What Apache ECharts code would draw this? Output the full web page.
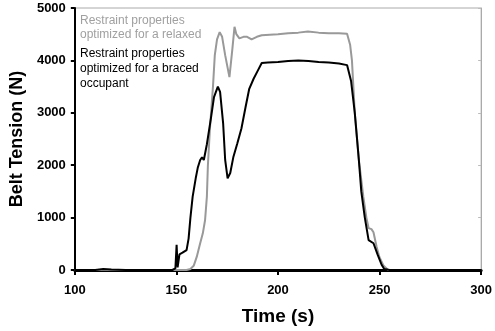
<!DOCTYPE html>
<html>
<head>
<meta charset="utf-8">
<script src="https://cdn.jsdelivr.net/npm/echarts@6/dist/echarts.min.js"></script>
<style>
  html, body { margin: 0; padding: 0; background: #fff; }
  #chart { width: 495px; height: 331px; }
</style>
</head>
<body>
<div id="chart"></div>
<script>
// relaxed occupant (gray)
var relaxTime = [100, 150, 155, 156.9, 158.5, 160, 161.7, 163, 164.1, 165, 165.5, 166.5, 168, 168.9, 170, 171.3, 172.5, 174, 176.1, 177.5, 178.6, 179.5, 181, 183, 184.8, 187, 189.6, 192, 200, 205, 210, 214.7, 220, 225, 230, 234, 235.5, 236.4, 237.8, 239.8, 242, 243.5, 244.6, 246, 247, 248.5, 249.9, 252, 254.2, 300]
var relaxForce = [0, 0, 0, 20, 80, 250, 510, 700, 950, 1400, 2000, 2700, 3500, 4100, 4400, 4540, 4450, 4100, 3680, 4200, 4640, 4500, 4420, 4450, 4450, 4400, 4450, 4480, 4500, 4520, 4530, 4550, 4530, 4520, 4520, 4510, 4300, 4000, 3000, 2100, 1400, 1000, 800, 780, 720, 450, 250, 80, 0, 0]

// braced occupant (black)
var braceTime = [100, 110, 114, 118, 125, 140, 148, 149.5, 150.1, 150.6, 151.5, 153, 155, 156, 156.9, 158, 159.5, 160.5, 161.7, 162.6, 163.5, 165, 167, 168.5, 170.4, 171.5, 173, 174, 175.2, 176.5, 178, 180, 182, 184, 185.8, 188, 190, 192, 195, 200, 205, 210, 215, 220, 225, 230, 234, 236, 237.8, 239.8, 241, 242.7, 244.6, 247, 249, 251, 252.3, 255, 300]
var braceForce = [0, 0, 20, 10, 0, 0, 0, 30, 480, 50, 300, 330, 380, 600, 1000, 1400, 1750, 1950, 2100, 2150, 2100, 2400, 2900, 3300, 3500, 3400, 2800, 2100, 1750, 1850, 2150, 2420, 2700, 3100, 3450, 3650, 3800, 3950, 3960, 3970, 3990, 4000, 3990, 3970, 3960, 3940, 3910, 3600, 3000, 2100, 1500, 1010, 570, 510, 300, 100, 20, 0, 0]

var xTicks = [100, 150, 200, 250, 300]
var yTicks = [0, 1000, 2000, 3000, 4000, 5000]

function pairs(t, v) {
  return t.map(function (x, i) { return [x, v[i]] })
}

var myChart = echarts.init(document.getElementById('chart'))

var boldFont = 'Liberation Sans, Arial, sans-serif'

var option = {
  animation: false,
  grid: {
    left: 72, right: 8, top: 8, bottom: 61,
    show: true,
    borderColor: '#aaa',
    borderWidth: 1
  },
  xAxis: {
    type: 'value',
    min: xTicks[0],
    max: xTicks[xTicks.length - 1],
    interval: 50,
    name: 'Time (s)',
    nameLocation: 'middle',
    nameGap: 37,
    nameTextStyle: { fontFamily: boldFont, fontWeight: 'bold', fontSize: 19, color: '#000' },
    axisLine: { show: true, lineStyle: { color: '#000', width: 3 } },
    axisTick: { show: true, length: 5, lineStyle: { color: '#000', width: 2 } },
    axisLabel: { fontFamily: boldFont, fontWeight: 'bold', fontSize: 13, color: '#000', margin: 14 },
    splitLine: { show: false }
  },
  yAxis: [{
    type: 'value',
    min: yTicks[0],
    max: yTicks[yTicks.length - 1],
    interval: 1000,
    name: 'Belt Tension (N)',
    nameLocation: 'middle',
    nameGap: 46,
    nameTextStyle: { fontFamily: boldFont, fontWeight: 'bold', fontSize: 18, color: '#000' },
    axisLine: { show: true, lineStyle: { color: '#000', width: 2 } },
    axisTick: { show: true, length: 4, lineStyle: { color: '#000', width: 2 } },
    axisLabel: {
      fontFamily: boldFont, fontWeight: 'bold', fontSize: 13, color: '#000', margin: 9,
      formatter: function (v) { return String(v) }
    },
    splitLine: { show: false }
  }, {
    // gray frame on the right with small ticks
    type: 'value',
    position: 'right',
    min: yTicks[0],
    max: yTicks[yTicks.length - 1],
    interval: 1000,
    axisLine: { show: true, lineStyle: { color: '#aaa', width: 1 } },
    axisTick: { show: true, inside: true, length: 3, lineStyle: { color: '#bbb', width: 1 } },
    axisLabel: { show: false },
    splitLine: { show: false }
  }],
  graphic: [
    {
      type: 'text', left: 80, top: 14,
      style: {
        text: 'Restraint properties\noptimized for a relaxed',
        fill: '#a0a0a0', fontFamily: boldFont, fontSize: 12, lineHeight: 14
      }
    },
    {
      type: 'text', left: 80, top: 46,
      style: {
        text: 'Restraint properties\noptimized for a braced\noccupant',
        fill: '#000', fontFamily: boldFont, fontSize: 12, lineHeight: 15
      }
    }
  ],
  series: [
    {
      name: 'relaxed',
      type: 'line',
      showSymbol: false,
      lineStyle: { color: '#999', width: 2 },
      data: pairs(relaxTime, relaxForce)
    },
    {
      name: 'braced',
      type: 'line',
      showSymbol: false,
      lineStyle: { color: '#000', width: 2 },
      data: pairs(braceTime, braceForce)
    }
  ]
}

myChart.setOption(option, true)
</script>
</body>
</html>
